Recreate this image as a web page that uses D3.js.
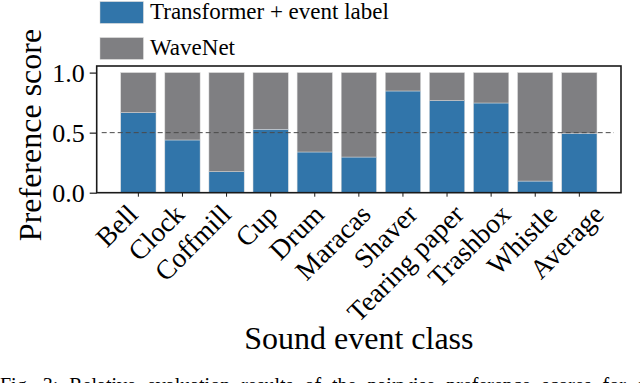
<!DOCTYPE html>
<html>
<head>
<meta charset="utf-8">
<script src="https://cdn.jsdelivr.net/npm/d3@7"></script>
<style>
	body { margin: 0; background: #fff; }
	svg { display: block; }
	text { font-family: "Liberation Serif", "Times New Roman", serif; fill: #000; }
</style>
</head>
<body>
<svg id="chart" width="640" height="383"></svg>
<script>
	//Data------------------------------------------------------------------
	var categories = ['Bell', 'Clock', 'Coffmill', 'Cup', 'Drum', 'Maracas',
		'Shaver', 'Tearing paper', 'Trashbox', 'Whistle', 'Average'];
	var transformerScores = [0.667, 0.439, 0.175, 0.528, 0.339, 0.297,
		0.847, 0.767, 0.747, 0.097, 0.495];
	var yTicks = [0.0, 0.5, 1.0];
	var seriesNames = ['Transformer + event label', 'WaveNet'];
	var seriesColors = ['#3175aa', '#7f7f82'];

	//Layout-----------------------------------------------------------------
	var svg = d3.select('#chart');
	var plotLeft = 96.7, plotRight = 621, plotTop = 66, plotBottom = 192.7;

	var x = d3.scaleBand()
		.domain(categories)
		.range([plotLeft, plotRight])
		.paddingInner(0.2)
		.paddingOuter(0.545);

	var y = d3.scaleLinear()
		.domain([0, 1.055])
		.range([plotBottom, plotTop]);

	//rotated labels sit a little wider apart than the ticks in the source
	var half = x.bandwidth() / 2;
	var labelX = d3.scalePoint()
		.domain(categories)
		.range([x(categories[0]) + half + 1,
			x(categories[categories.length - 1]) + half + 26]);

	//stacked rows: transformer share on the bottom, wavenet fills up to 1
	var rows = categories.map(function (c, i) {
		return { cat: c, t: transformerScores[i], w: 1 - transformerScores[i] };
	});
	var stack = d3.stack().keys(['t', 'w'])(rows);

	var bars = svg.append('g').classed('bars', true);
	bars.selectAll('g')
		.data(stack)
		.enter()
		.append('g')
		.attr('fill', function (d, i) { return seriesColors[i]; })
		.selectAll('rect')
		.data(function (d) { return d; })
		.enter()
		.append('rect')
		.attr('x', function (d) { return x(d.data.cat); })
		.attr('y', function (d) { return y(d[1]); })
		.attr('width', x.bandwidth())
		.attr('height', function (d) { return y(d[0]) - y(d[1]); })
		.attr('stroke', '#d9d9d9')
		.attr('stroke-width', 0.5);

	//dashed reference line at 0.5
	svg.append('line')
		.attr('x1', plotLeft + 5)
		.attr('x2', plotRight - 7)
		.attr('y1', y(0.5))
		.attr('y2', y(0.5))
		.attr('stroke', '#4a4a4a')
		.attr('stroke-width', 1)
		.attr('stroke-dasharray', '5,3');

	//frame
	svg.append('rect')
		.attr('x', plotLeft)
		.attr('y', plotTop)
		.attr('width', plotRight - plotLeft)
		.attr('height', plotBottom - plotTop)
		.attr('fill', 'none')
		.attr('stroke', '#1a1a1a')
		.attr('stroke-width', 1.6);

	//y axis
	var yAxis = svg.append('g')
		.attr('transform', 'translate(' + plotLeft + ',0)')
		.call(d3.axisLeft(y).tickValues(yTicks).tickSize(7).tickPadding(5)
			.tickFormat(d3.format('.1f')));
	yAxis.select('.domain').remove();
	yAxis.selectAll('line').attr('stroke', '#1a1a1a').attr('stroke-width', 1.2);
	yAxis.selectAll('text')
		.style('font-family', '"Liberation Serif", serif')
		.style('font-size', '26px')
		.attr('dy', '0.34em');

	//x axis: ticks only, labels drawn rotated below
	var xAxis = svg.append('g')
		.attr('transform', 'translate(0,' + plotBottom + ')')
		.call(d3.axisBottom(x).tickSize(4).tickFormat(''));
	xAxis.select('.domain').remove();
	xAxis.selectAll('line').attr('stroke', '#1a1a1a').attr('stroke-width', 1);

	svg.append('g').classed('x-labels', true)
		.selectAll('text')
		.data(categories)
		.enter()
		.append('text')
		.attr('transform', function (d) {
			return 'translate(' + labelX(d) + ',' + 216 + ')rotate(-45)';
		})
		.attr('text-anchor', 'end')
		.style('font-size', '27.5px')
		.text(function (d) { return d; });

	//axis titles
	svg.append('text')
		.attr('transform', 'translate(41,135)rotate(-90)')
		.attr('text-anchor', 'middle')
		.style('font-size', '32px')
		.text('Preference score');

	svg.append('text')
		.attr('x', (plotLeft + plotRight) / 2)
		.attr('y', 349)
		.attr('text-anchor', 'middle')
		.style('font-size', '32px')
		.text('Sound event class');

	//legend
	var legend = svg.append('g').classed('legend', true);
	seriesNames.forEach(function (name, i) {
		var ly = 1.7 + i * 36;
		legend.append('rect')
			.attr('x', 100)
			.attr('y', ly)
			.attr('width', 43.3)
			.attr('height', 21.6)
			.attr('fill', seriesColors[i])
			.attr('stroke', '#d0d0d0')
			.attr('stroke-width', 0.5);
		legend.append('text')
			.attr('x', 150)
			.attr('y', ly + 17.5)
			.style('font-size', '23px')
			.text(name);
	});

	//caption, cut by the bottom edge
	svg.append('text')
		.attr('x', 0)
		.attr('y', 392)
		.style('font-size', '20px')
		.style('word-spacing', '6px')
		.text('Fig. 3: Relative evaluation results of the pairwise preference scores for sound event labels');
</script>
</body>
</html>
